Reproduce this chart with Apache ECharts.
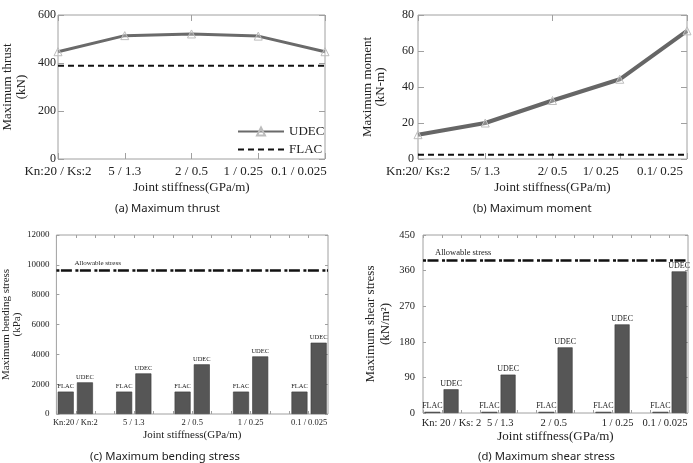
<!DOCTYPE html>
<html>
<head>
<meta charset="utf-8">
<script src="https://cdn.jsdelivr.net/npm/echarts@6/dist/echarts.min.js"></script>
<style>
  html, body { margin: 0; padding: 0; background: #fff; }
  #chart { width: 693px; height: 463px; }
</style>
</head>
<body>
<div id="chart"></div>
<script>
// (a) maximum thrust
const thrustCats = ["Kn:20 / Ks:2", "5 / 1.3", "2 / 0.5", "1 / 0.25", "0.1 / 0.025"];
const udecThrust = [447, 514, 521, 512, 447];
const flacThrust = [389, 389, 389, 389, 389];

// (b) maximum moment
const momentCats = ["Kn:20/ Ks:2", "5/ 1.3", "2/ 0.5", "1/ 0.25", "0.1/ 0.25"];
const udecMoment = [13.5, 20, 32.5, 44.3, 71.2];
const flacMoment = [2.4, 2.4, 2.4, 2.4, 2.4];

// (c) maximum bending stress
const bendingCats = ["Kn:20 / Kn:2", "5 / 1.3", "2 / 0.5", "1 / 0.25", "0.1 / 0.025"];
const flacBending = [1500, 1500, 1500, 1500, 1500];
const udecBending = [2120, 2720, 3330, 3860, 4780];
const allowBending = 9620;

// (d) maximum shear stress
const shearCats = ["Kn: 20 / Ks: 2", "5 / 1.3", "2 / 0.5", "1 / 0.25", "0.1 / 0.025"];
const flacShear = [3, 3, 3, 3, 3];
const udecShear = [60, 97, 166, 224, 358];
const allowShear = 387;

const SERIF = '"Liberation Serif", "Times New Roman", serif';
const SANS = '"Noto Sans", "DejaVu Sans", sans-serif';
const frameColor = "#a0a0a0";
const textColor = "#222";

// bar panels use a value x axis so the groups can sit a bit wider than the frame / 5
const X_MIN = -0.324;
const X_MAX = 4.324;
const barTicks = [];
for (let i = 0; i <= 14; i++) barTicks.push(X_MIN + (i * (X_MAX - X_MIN)) / 14);

const noLine = { show: false, onZero: false };

function tickStyle(len) {
  return { show: true, inside: true, length: len, lineStyle: { color: frameColor, width: 1 } };
}

function shiftedLabels(cats, shifts, size) {
  const rich = {};
  shifts.forEach((s, i) => {
    rich["s" + i] = { fontFamily: SERIF, fontSize: size, color: textColor, padding: [0, s * 2, 0, 0] };
  });
  return {
    interval: 0,
    formatter: (v, i) => (shifts[i] ? "{s" + i + "|" + v + "}" : v),
    rich: rich,
  };
}

const chart = echarts.init(document.getElementById("chart"));

const xAxes = [
  // (a)
  {
    gridIndex: 0, type: "category", data: thrustCats, boundaryGap: false,
    axisLine: noLine, axisTick: tickStyle(6),
    axisLabel: Object.assign({ fontFamily: SERIF, fontSize: 13, color: textColor, margin: 6 },
      shiftedLabels(thrustCats, [0, 0, 0, 15, 26], 13)),
    name: "Joint stiffness(GPa/m)", nameLocation: "middle", nameGap: 22,
    nameTextStyle: { fontFamily: SERIF, fontSize: 13, color: textColor },
  },
  {
    gridIndex: 0, type: "category", data: thrustCats, boundaryGap: false, position: "top",
    axisLine: noLine, axisTick: tickStyle(6), axisLabel: { show: false },
  },
  // (b)
  {
    gridIndex: 1, type: "category", data: momentCats, boundaryGap: false,
    axisLine: noLine, axisTick: tickStyle(6),
    axisLabel: Object.assign({ fontFamily: SERIF, fontSize: 13, color: textColor, margin: 6 },
      shiftedLabels(momentCats, [0, 0, 0, 19, 27], 13)),
    name: "Joint stiffness(GPa/m)", nameLocation: "middle", nameGap: 22,
    nameTextStyle: { fontFamily: SERIF, fontSize: 13, color: textColor },
  },
  {
    gridIndex: 1, type: "category", data: momentCats, boundaryGap: false, position: "top",
    axisLine: noLine, axisTick: tickStyle(6), axisLabel: { show: false },
  },
  // (c)
  {
    gridIndex: 2, type: "value", min: X_MIN, max: X_MAX,
    axisLine: noLine, splitLine: { show: false },
    axisTick: Object.assign(tickStyle(3), { customValues: barTicks }),
    axisLabel: {
      customValues: [0, 1, 2, 3, 4], formatter: (v) => bendingCats[Math.round(v)],
      fontFamily: SERIF, fontSize: 8.5, color: textColor, margin: 4,
    },
    name: "Joint stiffness(GPa/m)", nameLocation: "middle", nameGap: 16,
    nameTextStyle: { fontFamily: SERIF, fontSize: 11, color: textColor },
  },
  {
    gridIndex: 2, type: "value", min: X_MIN, max: X_MAX, position: "top",
    axisLine: noLine, splitLine: { show: false },
    axisTick: Object.assign(tickStyle(3), { customValues: barTicks }), axisLabel: { show: false },
  },
  // (d)
  {
    gridIndex: 3, type: "value", min: X_MIN, max: X_MAX,
    axisLine: noLine, splitLine: { show: false },
    axisTick: Object.assign(tickStyle(3), { customValues: barTicks }),
    axisLabel: {
      customValues: [0.175, 1.03, 1.97, 3.09, 3.92], formatter: (v) => shearCats[Math.round(v)],
      fontFamily: SERIF, fontSize: 10.5, color: textColor, margin: 5,
    },
    name: "Joint stiffness(GPa/m)", nameLocation: "middle", nameGap: 17,
    nameTextStyle: { fontFamily: SERIF, fontSize: 13, color: textColor },
  },
  {
    gridIndex: 3, type: "value", min: X_MIN, max: X_MAX, position: "top",
    axisLine: noLine, splitLine: { show: false },
    axisTick: Object.assign(tickStyle(3), { customValues: barTicks }), axisLabel: { show: false },
  },
];

function yPair(gridIndex, max, interval, labelSize, margin, name, nameSize, lineHeight, nameGap, tickLen) {
  return [
    {
      gridIndex: gridIndex, type: "value", min: 0, max: max, interval: interval,
      axisLine: noLine, splitLine: { show: false }, axisTick: tickStyle(tickLen),
      axisLabel: { fontFamily: SERIF, fontSize: labelSize, color: textColor, margin: margin, formatter: (v) => String(v) },
      name: name, nameLocation: "middle", nameGap: nameGap,
      nameTextStyle: { fontFamily: SERIF, fontSize: nameSize, lineHeight: lineHeight, color: textColor },
    },
    {
      gridIndex: gridIndex, type: "value", min: 0, max: max, interval: interval, position: "right",
      axisLine: noLine, splitLine: { show: false }, axisTick: tickStyle(tickLen),
      axisLabel: { show: false },
    },
  ];
}

const yAxes = [].concat(
  yPair(0, 600, 200, 12, 2, "Maximum thrust\n(kN)", 13, 14, 29, 6),
  yPair(1, 80, 20, 12, 4, "Maximum moment\n(kN-m)", 13, 13, 31, 6),
  yPair(2, 12000, 2000, 9, 7, "Maximum bending stress\n(kPa)", 11, 11, 31, 3),
  yPair(3, 450, 90, 10.5, 8, "Maximum shear stress\n(kN/m\u00b2)", 13, 15, 30, 3)
);

const markerStyle = { color: "rgba(255,255,255,0.25)", borderColor: "#bdbdbd", borderWidth: 1 };
const barStyle = { color: "#565656", borderColor: "#3a3a3a", borderWidth: 0.6 };

function barLabel(size) {
  return { show: true, position: "top", distance: 1.5, formatter: "{a}", fontFamily: SERIF, fontSize: size, color: textColor };
}

function allowLine(value, size, dist) {
  return {
    silent: true, symbol: "none",
    lineStyle: { color: "#111", width: 2.5, type: [3, 1.5, 11, 3.5] },
    label: {
      show: true, position: "insideStartTop", formatter: "Allowable stress",
      fontFamily: SERIF, fontSize: size, color: textColor, distance: dist,
    },
    data: [{ yAxis: value }],
  };
}

const series = [
  {
    name: "UDEC", type: "line", xAxisIndex: 0, yAxisIndex: 0, data: udecThrust,
    symbol: "triangle", symbolSize: 8, lineStyle: { color: "#6a6a6a", width: 3 }, itemStyle: markerStyle,
  },
  {
    name: "FLAC", type: "line", xAxisIndex: 0, yAxisIndex: 0, data: flacThrust,
    symbol: "none", lineStyle: { color: "#111", width: 2, type: [6, 4] }, itemStyle: { color: "rgba(0,0,0,0)" },
  },
  {
    name: "UDEC", type: "line", xAxisIndex: 2, yAxisIndex: 2, data: udecMoment,
    symbol: "triangle", symbolSize: 8, lineStyle: { color: "#666", width: 4 }, itemStyle: markerStyle,
  },
  {
    name: "FLAC", type: "line", xAxisIndex: 2, yAxisIndex: 2, data: flacMoment,
    symbol: "none", lineStyle: { color: "#111", width: 2, type: [6, 4] },
  },
  {
    name: "FLAC", type: "bar", xAxisIndex: 4, yAxisIndex: 4, data: flacBending.map((v, i) => [i, v]),
    barWidth: 16, barGap: "20%", itemStyle: barStyle, label: barLabel(6.5),
  },
  {
    name: "UDEC", type: "bar", xAxisIndex: 4, yAxisIndex: 4, data: udecBending.map((v, i) => [i, v]),
    barWidth: 16, barGap: "20%", itemStyle: barStyle, label: barLabel(6.5),
    markLine: allowLine(allowBending, 7, [18, 4]),
  },
  {
    name: "FLAC", type: "bar", xAxisIndex: 6, yAxisIndex: 6, data: flacShear.map((v, i) => [i, v]),
    barWidth: 16, barGap: "20%", itemStyle: barStyle, label: barLabel(8),
  },
  {
    name: "UDEC", type: "bar", xAxisIndex: 6, yAxisIndex: 6, data: udecShear.map((v, i) => [i, v]),
    barWidth: 15, barGap: "20%", itemStyle: barStyle, label: barLabel(8),
    markLine: allowLine(allowShear, 8.5, [12, 3]),
  },
];

function caption(text, left, top) {
  return {
    text: text, left: left, top: top, padding: 0,
    textStyle: { fontFamily: SANS, fontSize: 11.3, fontWeight: "normal", color: textColor },
  };
}

chart.setOption({
  animation: false,
  backgroundColor: "#fff",
  title: [
    caption("(a) Maximum thrust", 115, 203),
    caption("(b) Maximum moment", 473, 203),
    caption("(c) Maximum bending stress", 90, 451),
    caption("(d) Maximum shear stress", 478, 451),
  ],
  legend: {
    data: ["UDEC", "FLAC"], orient: "vertical", left: 237, top: 125, padding: 0,
    itemWidth: 46, itemHeight: 10, itemGap: 5,
    textStyle: { fontFamily: SERIF, fontSize: 13, color: textColor },
  },
  grid: [
    { left: 58, top: 15, width: 267, height: 144, show: true, borderColor: frameColor, borderWidth: 1 },
    { left: 418, top: 15, width: 269, height: 144, show: true, borderColor: frameColor, borderWidth: 1 },
    { left: 55, top: 235, width: 273, height: 179, show: true, borderColor: frameColor, borderWidth: 1 },
    { left: 423, top: 235, width: 265, height: 178, show: true, borderColor: frameColor, borderWidth: 1 },
  ],
  xAxis: xAxes,
  yAxis: yAxes,
  series: series,
});
</script>
</body>
</html>
